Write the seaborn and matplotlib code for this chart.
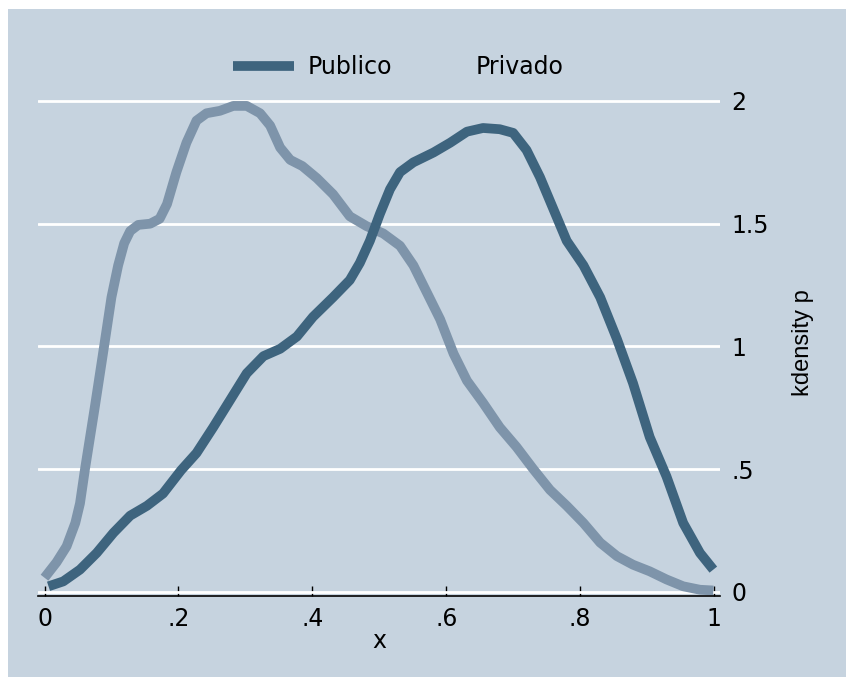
import matplotlib
matplotlib.use("Agg")
import matplotlib.pyplot as plt
from matplotlib.patches import Rectangle
from matplotlib.lines import Line2D
import seaborn as sns
import pandas as pd

# Kernel density estimates of p by sector
x_publico = [0.006, 0.028, 0.053, 0.078, 0.103, 0.128, 0.153, 0.177, 0.204, 0.227,
             0.252, 0.277, 0.302, 0.327, 0.352, 0.377, 0.401, 0.431, 0.456, 0.471,
             0.486, 0.501, 0.516, 0.531, 0.551, 0.581, 0.606, 0.631, 0.655, 0.680,
             0.700, 0.720, 0.740, 0.760, 0.780, 0.805, 0.830, 0.855, 0.879, 0.904,
             0.929, 0.954, 0.979, 0.999]
y_publico = [0.022, 0.042, 0.09, 0.158, 0.24, 0.31, 0.35, 0.40, 0.495, 0.565,
             0.67, 0.78, 0.89, 0.96, 0.99, 1.04, 1.12, 1.20, 1.27, 1.34,
             1.43, 1.54, 1.64, 1.71, 1.75, 1.79, 1.83, 1.875, 1.89, 1.885,
             1.87, 1.80, 1.69, 1.56, 1.43, 1.33, 1.20, 1.03, 0.85, 0.63,
             0.47, 0.28, 0.158, 0.09]

x_privado = [0.000, 0.018, 0.033, 0.046, 0.053, 0.0605, 0.075, 0.089, 0.100, 0.110,
             0.119, 0.128, 0.140, 0.158, 0.172, 0.183, 0.197, 0.212, 0.227, 0.242,
             0.262, 0.282, 0.302, 0.322, 0.337, 0.352, 0.367, 0.385, 0.407, 0.431,
             0.456, 0.481, 0.506, 0.531, 0.551, 0.571, 0.591, 0.611, 0.631, 0.655,
             0.680, 0.705, 0.730, 0.755, 0.780, 0.805, 0.830, 0.855, 0.879, 0.904,
             0.929, 0.954, 0.979, 0.999]
y_privado = [0.057, 0.12, 0.185, 0.28, 0.36, 0.50, 0.75, 1.00, 1.20, 1.33,
             1.42, 1.47, 1.495, 1.50, 1.52, 1.58, 1.71, 1.83, 1.92, 1.95,
             1.96, 1.98, 1.98, 1.95, 1.90, 1.81, 1.76, 1.735, 1.685, 1.62,
             1.53, 1.49, 1.46, 1.41, 1.33, 1.22, 1.11, 0.97, 0.86, 0.77,
             0.67, 0.59, 0.50, 0.415, 0.35, 0.28, 0.20, 0.145, 0.11, 0.083,
             0.05, 0.022, 0.008, 0.005]

x_ticks = [0, 0.2, 0.4, 0.6, 0.8, 1]
x_tick_labels = ["0", ".2", ".4", ".6", ".8", "1"]
y_ticks = [0, 0.5, 1, 1.5, 2]
y_tick_labels = ["0", ".5", "1", "1.5", "2"]

BG = "#c6d3df"
DARK = "#3e647e"
LIGHT = "#7e94aa"
LW = 7

sns.set_theme(style="white")
plt.rcParams["font.family"] = ["DejaVu Sans"]
plt.rcParams["text.color"] = "black"
plt.rcParams["xtick.color"] = "black"
plt.rcParams["ytick.color"] = "black"
plt.rcParams["axes.labelcolor"] = "black"

W, H = 846, 677
fig = plt.figure(figsize=(W / 100, H / 100), dpi=100, facecolor="white")
fig.patches.append(Rectangle((8 / W, 0), 1 - 8 / W + 0.01, 1 - 9 / H,
                             transform=fig.transFigure, facecolor=BG,
                             edgecolor="none", zorder=-10))

ax_l, ax_r, ax_t, ax_b = 38, 720, 90, 596
ax = fig.add_axes([ax_l / W, (H - ax_b) / H, (ax_r - ax_l) / W, (ax_b - ax_t) / H])
ax.set_facecolor(BG)

df_priv = pd.DataFrame({"x": x_privado, "y": y_privado})
df_pub = pd.DataFrame({"x": x_publico, "y": y_publico})
sns.lineplot(data=df_priv, x="x", y="y", ax=ax, color=LIGHT, lw=LW,
             sort=False, solid_joinstyle="round", solid_capstyle="butt")
sns.lineplot(data=df_pub, x="x", y="y", ax=ax, color=DARK, lw=LW,
             sort=False, solid_joinstyle="round", solid_capstyle="butt")

x0_px, xscale = 44.5, 669.5
y0_px, yscale = 591.7, 245.35
ax.set_xlim(-(x0_px - ax_l) / xscale, (ax_r - x0_px) / xscale)
ax.set_ylim(-(ax_b - y0_px) / yscale, (y0_px - ax_t) / yscale)

ax.set_xticks(x_ticks)
ax.set_xticklabels(x_tick_labels)
ax.set_yticks(y_ticks)
ax.set_yticklabels(y_tick_labels)
ax.yaxis.tick_right()
ax.tick_params(axis="x", direction="in", length=7, width=1, color="black",
               labelsize=17, pad=8, bottom=True)
ax.tick_params(axis="y", length=0, labelsize=17, pad=8, right=True, left=False,
               labelright=True, labelleft=False)

ax.grid(axis="y", color="white", lw=2)
ax.grid(axis="x", visible=False)
for side in ("top", "left", "right"):
    ax.spines[side].set_visible(False)
ax.spines["bottom"].set_color("black")
ax.spines["bottom"].set_linewidth(1.2)

ax.set_xlabel("x", fontsize=17, va="center")
ax.xaxis.set_label_coords(0.5, (ax_b - 641) / (ax_b - ax_t))
ax.yaxis.set_label_position("right")
ax.set_ylabel("kdensity p", fontsize=17, rotation=90, va="center", ha="center",
              family=["Liberation Sans", "DejaVu Sans"])
ax.yaxis.set_label_coords((803 - ax_l) / (ax_r - ax_l), 0.5)

handles = [Line2D([], [], color=DARK, lw=LW, solid_capstyle="butt"),
           Line2D([], [], color=LIGHT, lw=LW, alpha=0)]
fs = 17 * 100 / 72
fig.legend(handles, ["Publico", "Privado"], loc="center left",
           bbox_to_anchor=(233 / W, 1 - 67 / H), ncol=2, frameon=False,
           fontsize=17, handlelength=61 / fs, handletextpad=14 / fs,
           columnspacing=8 / fs, borderpad=0, borderaxespad=0)

fig.savefig("out.png", dpi=100, facecolor="white")
